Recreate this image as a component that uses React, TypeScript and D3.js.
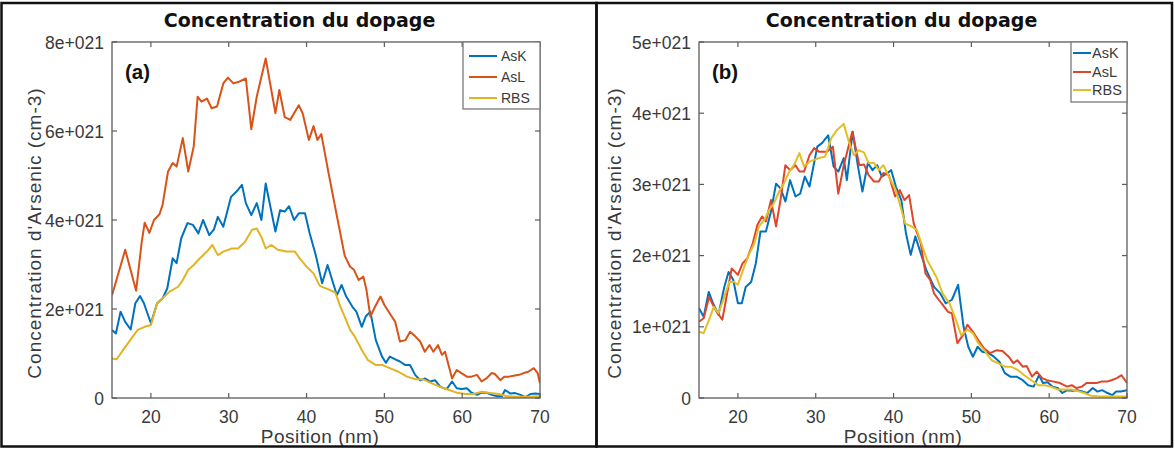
import React from 'react';
import * as d3 from 'd3';

// ---------- data (values in units of 1e21 cm-3, positions in nm) ----------
const xTicks = [20, 30, 40, 50, 60, 70];
const aYTicks = [0, 2, 4, 6, 8];
const bYTicks = [0, 1, 2, 3, 4, 5];
const seriesNames = ['AsK', 'AsL', 'RBS'];
const titleText = 'Concentration du dopage';
const xLabelText = 'Position (nm)';
const yLabelText = "Concentration d'Arsenic (cm-3)";

// Panel (a)
const aAsKPos = [15.0, 15.5, 16.1, 16.7, 17.4, 18.0, 18.6, 19.1, 20.0, 20.8, 21.5, 22.1, 22.8, 23.3, 23.9, 24.7, 25.4, 26.1, 26.7, 27.5, 28.1, 28.6, 29.3, 30.3, 31.0, 31.7, 32.2, 32.9, 33.6, 34.2, 34.75, 36.0, 36.6, 37.2, 37.75, 38.4, 39.0, 39.8, 40.4, 41.2, 42.0, 42.7, 43.9, 44.5, 45.1, 45.9, 46.4, 47.1, 47.6, 48.2, 48.9, 49.7, 50.2, 50.7, 51.4, 52.0, 52.7, 53.3, 53.95, 54.6, 55.2, 55.9, 56.5, 57.2, 58.0, 58.7, 59.3, 59.9, 60.6, 61.2, 61.9, 62.5, 63.1, 63.8, 64.5, 65.1, 65.5, 66.2, 66.8, 67.5, 68.1, 68.8, 69.4, 70.0];
const aAsKVal = [1.53, 1.45, 1.94, 1.71, 1.54, 2.13, 2.29, 2.13, 1.68, 2.13, 2.24, 2.46, 3.14, 3.03, 3.59, 3.93, 3.89, 3.70, 4.0, 3.66, 3.79, 4.07, 3.85, 4.52, 4.64, 4.79, 4.38, 4.11, 4.38, 4.0, 4.82, 3.74, 4.22, 4.19, 4.31, 4.0, 4.15, 4.15, 3.70, 3.2, 2.58, 2.99, 2.31, 2.54, 2.28, 2.05, 1.94, 1.60, 1.83, 1.94, 1.30, 0.93, 0.79, 0.93, 0.87, 0.82, 0.74, 0.74, 0.52, 0.40, 0.44, 0.37, 0.40, 0.25, 0.20, 0.37, 0.22, 0.20, 0.22, 0.12, 0.07, 0.12, 0.12, 0.07, 0.04, 0.04, 0.18, 0.10, 0.11, 0.07, 0.02, 0.09, 0.10, 0.09];

const aAsLPos = [15.0, 16.7, 18.1, 18.8, 19.2, 19.8, 20.4, 21.1, 21.5, 22.2, 22.8, 23.3, 24.1, 24.8, 25.5, 26.0, 26.5, 27.2, 27.8, 28.5, 29.3, 29.9, 30.6, 31.2, 32.2, 32.9, 33.6, 34.75, 36.0, 36.5, 37.2, 37.9, 39.0, 39.5, 40.3, 40.9, 41.4, 41.9, 42.8, 43.9, 44.9, 45.6, 46.1, 46.7, 47.3, 47.7, 48.2, 48.8, 49.5, 50.0, 50.7, 51.4, 52.0, 52.7, 53.3, 54.0, 54.6, 55.2, 55.8, 56.3, 56.9, 57.4, 57.8, 58.7, 59.3, 59.9, 60.6, 61.2, 61.9, 62.5, 63.1, 63.8, 64.2, 64.9, 65.4, 66.0, 66.6, 67.3, 67.9, 68.5, 69.2, 69.7, 70.0];
const aAsLVal = [2.31, 3.33, 2.41, 3.48, 3.94, 3.71, 4.0, 4.13, 4.34, 5.09, 5.28, 5.20, 5.84, 5.09, 5.65, 6.77, 6.66, 6.73, 6.51, 6.55, 7.07, 7.2, 7.07, 7.1, 7.18, 6.04, 6.77, 7.63, 6.40, 6.92, 6.31, 6.25, 6.58, 6.40, 5.80, 6.11, 5.80, 5.93, 5.08, 4.09, 3.2, 2.95, 2.88, 2.65, 2.73, 2.43, 1.83, 2.05, 2.28, 2.09, 1.90, 1.71, 1.27, 1.30, 1.49, 1.38, 1.27, 1.04, 1.19, 1.04, 1.19, 0.97, 1.04, 0.44, 0.63, 0.56, 0.48, 0.48, 0.52, 0.37, 0.44, 0.56, 0.54, 0.40, 0.48, 0.48, 0.50, 0.52, 0.56, 0.59, 0.67, 0.56, 0.33];

const aRBSPos = [15.0, 15.6, 16.6, 17.5, 18.3, 19.2, 20.0, 20.8, 21.5, 22.4, 23.5, 24.1, 24.8, 25.5, 26.3, 27.2, 27.9, 28.6, 29.3, 30.4, 31.2, 32.1, 33.0, 33.6, 34.2, 34.75, 35.5, 36.3, 37.4, 38.5, 39.2, 40.0, 40.9, 41.7, 42.8, 43.7, 44.3, 44.9, 45.6, 46.2, 47.1, 47.9, 48.9, 49.8, 50.7, 51.8, 52.9, 54.0, 55.0, 56.1, 57.2, 58.3, 59.3, 60.4, 61.5, 62.5, 63.6, 64.7, 65.8, 67.0, 68.3, 70.0];
const aRBSVal = [0.89, 0.87, 1.12, 1.34, 1.53, 1.60, 1.64, 2.13, 2.24, 2.39, 2.50, 2.65, 2.88, 2.99, 3.14, 3.29, 3.44, 3.21, 3.29, 3.36, 3.36, 3.51, 3.78, 3.81, 3.62, 3.36, 3.44, 3.33, 3.29, 3.29, 3.12, 2.95, 2.80, 2.52, 2.44, 2.37, 2.07, 1.83, 1.53, 1.38, 1.08, 0.85, 0.74, 0.74, 0.67, 0.59, 0.48, 0.42, 0.42, 0.33, 0.25, 0.18, 0.12, 0.09, 0.09, 0.14, 0.11, 0.09, 0.04, 0.03, 0.03, 0.04];

// Panel (b)
const bAsKPos = [15.0, 15.6, 16.25, 16.8, 17.5, 18.25, 18.8, 19.4, 20.0, 20.5, 21.0, 21.7, 22.3, 22.9, 23.6, 24.25, 24.9, 25.5, 26.1, 26.7, 27.4, 28.0, 28.6, 29.2, 30.2, 30.8, 31.6, 32.3, 32.9, 33.6, 34.0, 34.75, 35.4, 36.0, 36.7, 37.3, 37.9, 38.5, 39.1, 39.7, 40.3, 41.0, 41.6, 42.2, 42.8, 43.5, 44.2, 45.2, 46.0, 46.7, 47.5, 48.3, 49.0, 49.6, 50.2, 50.8, 51.4, 52.2, 52.9, 53.6, 54.3, 55.0, 55.8, 56.6, 57.3, 58.0, 58.7, 59.2, 59.8, 60.4, 61.1, 61.7, 62.3, 63.0, 63.6, 64.3, 64.9, 65.6, 66.2, 66.8, 67.5, 68.1, 68.6, 69.2, 70.0];
const bAsKVal = [1.26, 1.14, 1.49, 1.33, 1.17, 1.56, 1.77, 1.66, 1.33, 1.33, 1.56, 1.63, 1.89, 2.34, 2.34, 2.62, 3.01, 2.94, 2.76, 3.06, 2.83, 2.87, 3.11, 2.97, 3.53, 3.58, 3.69, 3.25, 3.18, 3.37, 3.06, 3.74, 3.27, 2.90, 3.30, 3.20, 3.27, 3.11, 3.15, 3.20, 2.97, 2.78, 2.31, 2.01, 2.27, 2.03, 1.80, 1.56, 1.47, 1.33, 1.38, 1.59, 1.0, 0.72, 0.58, 0.72, 0.65, 0.63, 0.58, 0.51, 0.35, 0.30, 0.30, 0.25, 0.18, 0.16, 0.32, 0.21, 0.22, 0.16, 0.14, 0.07, 0.11, 0.10, 0.11, 0.09, 0.07, 0.14, 0.09, 0.11, 0.07, 0.04, 0.09, 0.09, 0.11];

const bAsLPos = [15.0, 15.6, 16.3, 17.0, 17.4, 18.0, 18.7, 19.2, 20.0, 20.6, 21.2, 21.9, 22.5, 23.1, 23.6, 24.25, 24.9, 25.5, 26.1, 26.7, 27.4, 27.9, 28.5, 29.2, 29.8, 30.4, 31.45, 32.2, 32.9, 33.6, 34.7, 35.6, 36.2, 36.8, 37.5, 38.1, 38.7, 39.4, 40.2, 40.8, 41.4, 42.0, 42.6, 43.5, 44.1, 44.7, 45.2, 45.8, 46.3, 47.0, 47.5, 48.2, 48.9, 49.5, 50.2, 50.9, 51.6, 52.4, 53.2, 54.0, 54.8, 55.4, 55.9, 56.6, 57.1, 57.8, 58.4, 59.1, 59.7, 60.6, 61.4, 62.3, 62.9, 63.5, 64.2, 64.8, 65.4, 66.1, 66.7, 67.4, 68.0, 68.7, 69.3, 70.0];
const bAsLVal = [1.07, 1.12, 1.42, 1.26, 1.19, 1.10, 1.52, 1.82, 1.73, 1.89, 1.96, 2.17, 2.43, 2.55, 2.48, 2.78, 2.41, 2.80, 3.27, 3.20, 3.27, 3.18, 3.18, 3.41, 3.51, 3.46, 3.46, 3.53, 2.87, 3.27, 3.74, 3.27, 3.28, 3.13, 3.04, 3.04, 3.16, 3.13, 2.83, 2.92, 2.78, 2.85, 2.45, 2.17, 1.75, 1.66, 1.47, 1.38, 1.31, 1.21, 1.19, 0.77, 0.88, 1.03, 0.93, 0.81, 0.70, 0.63, 0.67, 0.66, 0.58, 0.49, 0.53, 0.44, 0.45, 0.30, 0.37, 0.28, 0.25, 0.23, 0.21, 0.16, 0.18, 0.14, 0.16, 0.21, 0.21, 0.21, 0.23, 0.23, 0.25, 0.28, 0.32, 0.21];

const bRBSPos = [15.0, 15.6, 16.3, 16.9, 17.5, 18.25, 18.9, 19.5, 20.0, 20.8, 21.4, 22.1, 22.7, 23.4, 24.0, 24.6, 25.3, 25.9, 26.6, 27.2, 27.9, 28.5, 29.2, 30.4, 31.2, 32.0, 32.7, 33.6, 34.2, 34.9, 35.5, 36.2, 36.8, 37.5, 38.1, 38.7, 39.4, 40.2, 40.8, 41.5, 42.3, 43.0, 43.7, 44.3, 45.0, 45.5, 46.3, 47.2, 48.0, 48.7, 49.5, 50.2, 50.9, 51.8, 52.6, 53.4, 54.3, 55.1, 56.0, 56.8, 57.7, 58.6, 59.4, 60.2, 61.1, 62.0, 62.8, 63.6, 64.5, 65.4, 66.5, 68.0, 70.0];
const bRBSVal = [0.93, 0.91, 1.10, 1.28, 1.19, 1.42, 1.63, 1.63, 1.59, 1.84, 2.01, 2.17, 2.41, 2.50, 2.64, 2.73, 2.90, 3.01, 3.18, 3.27, 3.44, 3.25, 3.32, 3.37, 3.39, 3.65, 3.76, 3.85, 3.62, 3.41, 3.48, 3.45, 3.30, 3.30, 3.20, 3.27, 3.11, 2.94, 2.73, 2.45, 2.41, 2.36, 2.13, 1.94, 1.80, 1.70, 1.47, 1.33, 1.10, 0.88, 0.96, 0.91, 0.77, 0.65, 0.53, 0.49, 0.44, 0.44, 0.39, 0.32, 0.25, 0.18, 0.18, 0.16, 0.12, 0.12, 0.12, 0.10, 0.07, 0.03, 0.02, 0.02, 0.02];

// ---------- styling ----------
const COLORS_A: Record<string, string> = { AsK: '#0072BD', AsL: '#D95319', RBS: '#E3B324' };
const COLORS_B: Record<string, string> = { AsK: '#0072BD', AsL: '#E0452A', RBS: '#E3BE24' };
const AXIS_COLOR = '#5c5c5c';
const TEXT_COLOR = '#3a3a3a';
const SANS = '"Liberation Sans", Arial, Helvetica, sans-serif';
const DEJAVU = '"DejaVu Sans", Verdana, sans-serif';

type Series = { name: string; pos: number[]; val: number[] };

type PanelProps = {
  id: string;
  tag: string;
  left: number; right: number; top: number; bottom: number;
  yMax: number; yTicks: number[];
  series: Series[];
  colors: Record<string, string>;
  titleX: number;
  yLabelX: number;
  xLabelX: number;
  legend: { x0: number; x1: number; y0: number; y1: number; lineX0: number; lineX1: number; textX: number; rows: number[]; fontSize: number };
};

function Panel(p: PanelProps) {
  const x = d3.scaleLinear().domain([15, 70]).range([p.left, p.right]);
  const y = d3.scaleLinear().domain([0, p.yMax]).range([p.bottom, p.top]);
  const line = d3.line<[number, number]>().x(d => x(d[0])).y(d => y(d[1]));
  const tickLen = 5;
  const fmt = (v: number) => (v === 0 ? '0' : `${v}e+021`);
  const lg = p.legend;
  return (
    <g>
      <defs>
        <clipPath id={`clip-${p.id}`}>
          <rect x={p.left} y={p.top} width={p.right - p.left} height={p.bottom - p.top} />
        </clipPath>
      </defs>
      {/* title */}
      <text x={p.titleX} y={27} textAnchor="middle" fontFamily={DEJAVU} fontWeight="bold" fontSize={19} fill="#111">
        {titleText}
      </text>
      {/* data lines */}
      <g clipPath={`url(#clip-${p.id})`}>
        {p.series.map(s => (
          <path
            key={s.name}
            d={line(s.pos.map((t, i) => [t, s.val[i]] as [number, number])) || ''}
            fill="none"
            stroke={p.colors[s.name]}
            strokeWidth={2}
            strokeLinejoin="round"
          />
        ))}
      </g>
      {/* axes box */}
      <rect x={p.left} y={p.top} width={p.right - p.left} height={p.bottom - p.top} fill="none" stroke={AXIS_COLOR} strokeWidth={1.3} />
      {/* x ticks */}
      {xTicks.map(t => (
        <g key={`xt${t}`}>
          <line x1={x(t)} x2={x(t)} y1={p.bottom} y2={p.bottom - tickLen} stroke={AXIS_COLOR} strokeWidth={1.2} />
          <line x1={x(t)} x2={x(t)} y1={p.top} y2={p.top + tickLen} stroke={AXIS_COLOR} strokeWidth={1.2} />
          <text x={x(t)} y={p.bottom + 25} textAnchor="middle" fontFamily={SANS} fontSize={17.5} fill={TEXT_COLOR}>
            {t}
          </text>
        </g>
      ))}
      {/* y ticks */}
      {p.yTicks.map(v => (
        <g key={`yt${v}`}>
          <line x1={p.left} x2={p.left + tickLen} y1={y(v)} y2={y(v)} stroke={AXIS_COLOR} strokeWidth={1.2} />
          <line x1={p.right} x2={p.right - tickLen} y1={y(v)} y2={y(v)} stroke={AXIS_COLOR} strokeWidth={1.2} />
          <text x={p.left - 8} y={y(v) + 6.5} textAnchor="end" fontFamily={SANS} fontSize={17.5} fill={TEXT_COLOR}>
            {fmt(v)}
          </text>
        </g>
      ))}
      {/* axis labels */}
      <text x={p.xLabelX} y={443} textAnchor="middle" fontFamily={SANS} fontSize={19} letterSpacing={0.5} fill={TEXT_COLOR}>
        {xLabelText}
      </text>
      <text
        transform={`translate(${p.yLabelX},${(p.top + p.bottom) / 2 + 13}) rotate(-90)`}
        textAnchor="middle"
        fontFamily={SANS}
        fontSize={19}
        letterSpacing={1}
        fill={TEXT_COLOR}
      >
        {yLabelText}
      </text>
      {/* panel tag */}
      <text x={p.left + 13} y={79} fontFamily={SANS} fontWeight="bold" fontSize={20.5} fill="#111">
        {p.tag}
      </text>
      {/* legend */}
      <rect x={lg.x0} y={lg.y0} width={lg.x1 - lg.x0} height={lg.y1 - lg.y0} fill="#fff" stroke="#7a7a7a" strokeWidth={1.3} />
      {seriesNames.map((n, i) => (
        <g key={`lg${n}`}>
          <line x1={lg.lineX0} x2={lg.lineX1} y1={lg.rows[i]} y2={lg.rows[i]} stroke={p.colors[n]} strokeWidth={2} />
          <text x={lg.textX} y={lg.rows[i] + lg.fontSize * 0.36} fontFamily={SANS} fontSize={lg.fontSize} fill={TEXT_COLOR}>
            {n}
          </text>
        </g>
      ))}
    </g>
  );
}

export default function App() {
  const aSeries: Series[] = [
    { name: 'AsK', pos: aAsKPos, val: aAsKVal },
    { name: 'AsL', pos: aAsLPos, val: aAsLVal },
    { name: 'RBS', pos: aRBSPos, val: aRBSVal },
  ];
  const bSeries: Series[] = [
    { name: 'AsK', pos: bAsKPos, val: bAsKVal },
    { name: 'AsL', pos: bAsLPos, val: bAsLVal },
    { name: 'RBS', pos: bRBSPos, val: bRBSVal },
  ];
  return (
    <svg
      width={1175}
      height={449}
      viewBox="0 0 1175 449"
      style={{ position: 'absolute', left: 0, top: 0, background: '#fff' }}
    >
      <rect x={0} y={0} width={1175} height={449} fill="#fff" />
      <Panel
        id="a"
        tag="(a)"
        left={112} right={540} top={42} bottom={398}
        yMax={8} yTicks={aYTicks}
        series={aSeries}
        colors={COLORS_A}
        titleX={299.5}
        yLabelX={41}
        xLabelX={320}
        legend={{ x0: 463, x1: 540, y0: 42, y1: 109, lineX0: 469, lineX1: 497, textX: 501, rows: [56, 77, 98], fontSize: 14 }}
      />
      <Panel
        id="b"
        tag="(b)"
        left={699} right={1127} top={42} bottom={398}
        yMax={5} yTicks={bYTicks}
        series={bSeries}
        colors={COLORS_B}
        titleX={901.5}
        yLabelX={621}
        xLabelX={903}
        legend={{ x0: 1071, x1: 1127, y0: 42, y1: 102, lineX0: 1073, lineX1: 1091, textX: 1092, rows: [53, 72, 90], fontSize: 14.5 }}
      />
      {/* outer frames */}
      <rect x={1.5} y={3} width={595} height={443.5} fill="none" stroke="#111" strokeWidth={2.5} />
      <rect x={596.5} y={3} width={575.5} height={443.5} fill="none" stroke="#111" strokeWidth={2.5} />
    </svg>
  );
}
